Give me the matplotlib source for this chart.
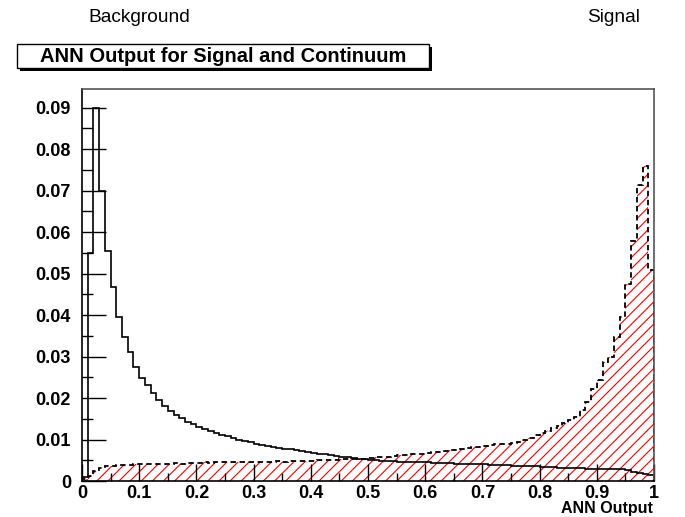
import numpy as np
import matplotlib
matplotlib.use("Agg")
import matplotlib.pyplot as plt
from matplotlib.patches import Rectangle
from matplotlib.ticker import MultipleLocator, FuncFormatter

plt.rcParams['font.family'] = ['Liberation Sans', 'DejaVu Sans']
plt.rcParams['hatch.linewidth'] = 0.8

# 100 bins of width 0.01 on [0, 1]
edges = np.linspace(0, 1, 101)

background = [
    0.0010, 0.0550, 0.0900, 0.0700, 0.0555, 0.0467, 0.0395, 0.0347, 0.0311, 0.0275,
    0.0249, 0.0231, 0.0211, 0.0196, 0.0180, 0.0168, 0.0159, 0.0151, 0.0143, 0.0137,
    0.0131, 0.0126, 0.0121, 0.0116, 0.0112, 0.0108, 0.0104, 0.0100, 0.0097, 0.0094,
    0.0089, 0.0087, 0.0085, 0.0082, 0.0080, 0.0078, 0.0076, 0.0074, 0.0072, 0.0070,
    0.0068, 0.0066, 0.0064, 0.0062, 0.0060, 0.0058, 0.0057, 0.0055, 0.0054, 0.0053,
    0.0051, 0.0050, 0.0049, 0.0048, 0.0048, 0.0047, 0.0047, 0.0046, 0.0046, 0.0045,
    0.0045, 0.0044, 0.0044, 0.0043, 0.0043, 0.0042, 0.0042, 0.0041, 0.0041, 0.0040,
    0.0040, 0.0039, 0.0039, 0.0038, 0.0038, 0.0037, 0.0036, 0.0036, 0.0035, 0.0035,
    0.0034, 0.0033, 0.0033, 0.0032, 0.0032, 0.0031, 0.0031, 0.0031, 0.0030, 0.0030,
    0.0030, 0.0029, 0.0029, 0.0028, 0.0028, 0.0027, 0.0022, 0.0020, 0.0017, 0.0014,
]

signal = [
    0.0005, 0.0012, 0.0025, 0.0032, 0.0035, 0.0037, 0.0038, 0.0038, 0.0039, 0.0040,
    0.0040, 0.0041, 0.0041, 0.0042, 0.0041, 0.0042, 0.0043, 0.0042, 0.0043, 0.0044,
    0.0044, 0.0045, 0.0044, 0.0045, 0.0045, 0.0046, 0.0045, 0.0046, 0.0046, 0.0046,
    0.0046, 0.0047, 0.0046, 0.0047, 0.0048, 0.0047, 0.0048, 0.0048, 0.0049, 0.0049,
    0.0049, 0.0050, 0.0050, 0.0051, 0.0051, 0.0052, 0.0052, 0.0053, 0.0053, 0.0054,
    0.0056, 0.0057, 0.0058, 0.0059, 0.0060, 0.0062, 0.0063, 0.0064, 0.0065, 0.0066,
    0.0068, 0.0069, 0.0071, 0.0072, 0.0074, 0.0075, 0.0077, 0.0079, 0.0081, 0.0082,
    0.0084, 0.0086, 0.0088, 0.0089, 0.0090, 0.0092, 0.0095, 0.0099, 0.0104, 0.0110,
    0.0115, 0.0120, 0.0127, 0.0133, 0.0140, 0.0146, 0.0155, 0.0170, 0.0190, 0.0222,
    0.0243, 0.0287, 0.0300, 0.0347, 0.0395, 0.0475, 0.0578, 0.0713, 0.0760, 0.0509,
]

x_ticks = [0, 0.1, 0.2, 0.3, 0.4, 0.5, 0.6, 0.7, 0.8, 0.9, 1]
y_ticks = [0, 0.01, 0.02, 0.03, 0.04, 0.05, 0.06, 0.07, 0.08, 0.09]

fig = plt.figure(figsize=(6.85, 5.17), dpi=100)
ax = fig.add_axes([82 / 685, 36 / 517, 572 / 685, 392 / 517])

# signal: red hatched fill with dashed outline
ax.stairs(signal, edges, fill=True, facecolor='none', edgecolor='red',
          hatch='///', linewidth=0)
ax.stairs(background, edges, color='black', linewidth=1.2)
ax.stairs(signal, edges, color='black', linewidth=1.3, linestyle=(0, (3, 2)))

ax.set_xlim(0, 1)
ax.set_ylim(0, max(background) * 1.05)

fmt = FuncFormatter(lambda v, p: '%g' % round(v, 4))
ax.set_xticks(x_ticks)
ax.set_yticks(y_ticks)
ax.xaxis.set_major_formatter(fmt)
ax.yaxis.set_major_formatter(fmt)
ax.xaxis.set_minor_locator(MultipleLocator(0.05))
ax.yaxis.set_minor_locator(MultipleLocator(0.005))
ax.tick_params(axis='both', which='both', direction='in', top=False, right=False,
               labelsize=13, width=1)
ax.tick_params(axis='x', which='major', length=12, pad=3)
ax.tick_params(axis='x', which='minor', length=6)
ax.tick_params(axis='y', which='major', length=17, pad=8)
ax.tick_params(axis='y', which='minor', length=8)
for lab in ax.get_xticklabels() + ax.get_yticklabels():
    lab.set_fontweight('bold')

for s in ['top', 'right']:
    ax.spines[s].set_color('#555555')
    ax.spines[s].set_linewidth(1.2)
for s in ['left', 'bottom']:
    ax.spines[s].set_linewidth(1.2)

fig.text(653 / 685, 0.5 / 517, 'ANN Output', ha='right', va='bottom',
         fontsize=11.5, fontweight='bold')

# pad labels at the top
fig.text(88 / 685, 1 - 18 / 517, 'Background', fontsize=13.8, va='center', ha='left')
fig.text(640 / 685, 1 - 18 / 517, 'Signal', fontsize=13.8, va='center', ha='right')

# title box with shadow
bx0, by0, bw, bh = 17, 44, 412, 24
fig.patches.append(Rectangle(((bx0 + 3) / 685, 1 - (by0 + bh + 3) / 517), bw / 685, bh / 517,
                             transform=fig.transFigure, facecolor='black', edgecolor='none'))
fig.patches.append(Rectangle((bx0 / 685, 1 - (by0 + bh) / 517), bw / 685, bh / 517,
                             transform=fig.transFigure, facecolor='white', edgecolor='black',
                             linewidth=1))
fig.text((bx0 + bw / 2) / 685, 1 - (by0 + bh / 2) / 517,
         'ANN Output for Signal and Continuum', fontsize=14.5, fontweight='bold',
         ha='center', va='center')

fig.savefig('out.png', dpi=100)
